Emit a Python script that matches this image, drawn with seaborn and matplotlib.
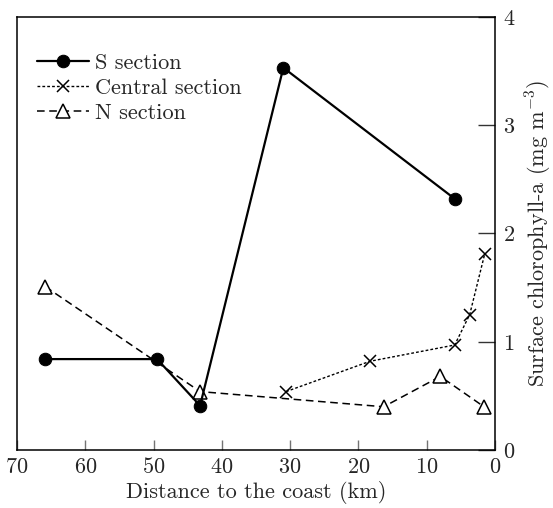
import seaborn as sns
import matplotlib.pyplot as plt
import pandas as pd

# Data (distance in km, chlorophyll in mg m-3)
s_dist = [65.9, 49.5, 43.2, 31.0, 5.9]
s_chl = [0.84, 0.84, 0.41, 3.53, 2.32]

c_dist = [30.6, 18.3, 5.9, 3.7, 1.5]
c_chl = [0.54, 0.82, 0.97, 1.25, 1.81]

n_dist = [65.9, 43.2, 16.3, 8.0, 1.6]
n_chl = [1.51, 0.54, 0.40, 0.68, 0.40]

x_ticks = [70, 60, 50, 40, 30, 20, 10, 0]
y_ticks = [0, 1, 2, 3, 4]

sns.set_style("ticks")
plt.rcParams['font.family'] = 'serif'
plt.rcParams['font.serif'] = ['cmr10', 'DejaVu Serif']
plt.rcParams['mathtext.fontset'] = 'cm'
plt.rcParams['axes.formatter.use_mathtext'] = True

s_df = pd.DataFrame({'dist': s_dist, 'chl': s_chl})
c_df = pd.DataFrame({'dist': c_dist, 'chl': c_chl})
n_df = pd.DataFrame({'dist': n_dist, 'chl': n_chl})

fig = plt.figure(figsize=(5.53, 5.08), dpi=100)
ax = fig.add_axes([0.031, 0.114, 0.864, 0.853])

sns.lineplot(data=n_df, x='dist', y='chl', ax=ax, sort=False, color='black',
             linestyle=(0, (5, 3)), linewidth=1.1, marker='^', markersize=10,
             markerfacecolor='white', markeredgecolor='black', markeredgewidth=1.1,
             label='N section', zorder=2)
sns.lineplot(data=c_df, x='dist', y='chl', ax=ax, sort=False, color='black',
             linestyle=(0, (2, 1.5)), linewidth=1.0, marker='x', markersize=8,
             markeredgecolor='black', markeredgewidth=1.1,
             label='Central section', zorder=3)
sns.lineplot(data=s_df, x='dist', y='chl', ax=ax, sort=False, color='black',
             linestyle='-', linewidth=1.6, marker='o', markersize=9,
             markerfacecolor='black', markeredgecolor='black',
             label='S section', zorder=4)

ax.set_xlim(70, 0)
ax.set_ylim(0, 4)
ax.set_xticks(x_ticks)
ax.set_yticks(y_ticks)

ax.yaxis.tick_right()
ax.yaxis.set_label_position('right')
ax.tick_params(axis='x', direction='in', length=7, width=1, color='0.45',
               labelsize=16, pad=5)
ax.tick_params(axis='y', direction='in', length=12, width=1, color='0.2',
               labelsize=16, pad=6)
for sp in ax.spines.values():
    sp.set_linewidth(1.1)
    sp.set_color('black')

ax.set_xlabel('Distance to the coast (km)', fontsize=16, labelpad=3)
ax.set_ylabel('Surface chlorophyll-a (mg m$^{-3}$)', fontsize=16, labelpad=6)

handles, labels = ax.get_legend_handles_labels()
order = [2, 1, 0]
ax.legend([handles[i] for i in order], [labels[i] for i in order],
          loc='upper left', bbox_to_anchor=(0.024, 0.937), frameon=False,
          fontsize=16, handlelength=2.3, handletextpad=0.3, labelspacing=0.25,
          borderaxespad=0)

fig.savefig('out.png', dpi=100)
